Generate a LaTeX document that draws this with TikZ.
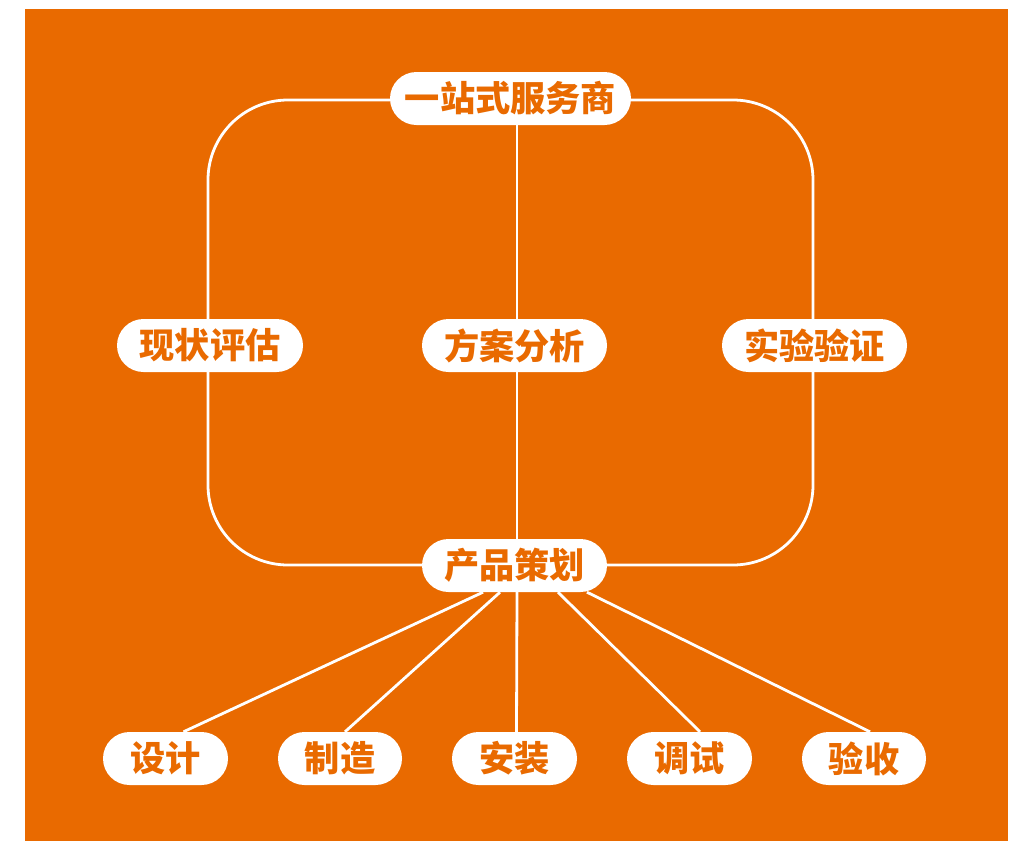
\documentclass[tikz,border=0pt]{standalone}
\usepackage{fontspec}
\newfontfamily\cjk{Noto Sans CJK SC}
\usetikzlibrary{backgrounds}
\definecolor{bgorange}{RGB}{233,106,0}
\tikzset{
  pill/.style={fill=white, draw=none, rounded corners=26.5pt, minimum height=53pt, inner sep=0pt,
    text=bgorange, font=\cjk\bfseries\fontsize{35.2}{40}\selectfont},
  link/.style={draw=white, line width=2.8pt}
}
\begin{document}
\begin{tikzpicture}[x=1pt,y=-1pt]
\useasboundingbox (0,0) rectangle (1022,841);
\begin{scope}[on background layer]
\fill[white] (0,0) rectangle (1022,841);
\fill[bgorange] (25,9) rectangle (1008,841);
\end{scope}

\node[pill, minimum width=241pt] (top) at (510.5,98.5) {一站式服务商};
\node[pill, minimum width=186pt] (xz) at (210,345.5) {现状评估};
\node[pill, minimum width=185pt] (fa) at (514.5,345.5) {方案分析};
\node[pill, minimum width=185pt] (sy) at (814.5,345.5) {实验验证};
\node[pill, minimum width=185pt] (pc) at (514.5,565.5) {产品策划};
\node[pill, minimum width=125pt] (sj) at (165.5,758.5) {设计};
\node[pill, minimum width=124pt] (zz) at (340,758.5) {制造};
\node[pill, minimum width=125pt] (az) at (514.5,758.5) {安装};
\node[pill, minimum width=125pt] (ts) at (689.5,758.5) {调试};
\node[pill, minimum width=124pt] (ys) at (864,758.5) {验收};

\begin{scope}[on background layer]
\draw[link, rounded corners=80pt] (208,100) rectangle (813,565);
\draw[link] ([xshift=6.5pt]top.south) -- ([xshift=2.5pt]fa.north);
\draw[link] ([xshift=2.5pt]fa.south) -- ([xshift=2.5pt]pc.north);
\draw[link] ([xshift=-31.5pt]pc.south) -- ([xshift=18pt]sj.north);
\draw[link] ([xshift=-14.5pt]pc.south) -- ([xshift=5pt]zz.north);
\draw[link] ([xshift=2.5pt]pc.south) -- ([xshift=2pt]az.north);
\draw[link] ([xshift=43.5pt]pc.south) -- ([xshift=10.5pt]ts.north);
\draw[link] ([xshift=72.5pt]pc.south) -- ([xshift=6pt]ys.north);
\end{scope}
\end{tikzpicture}
\end{document}
